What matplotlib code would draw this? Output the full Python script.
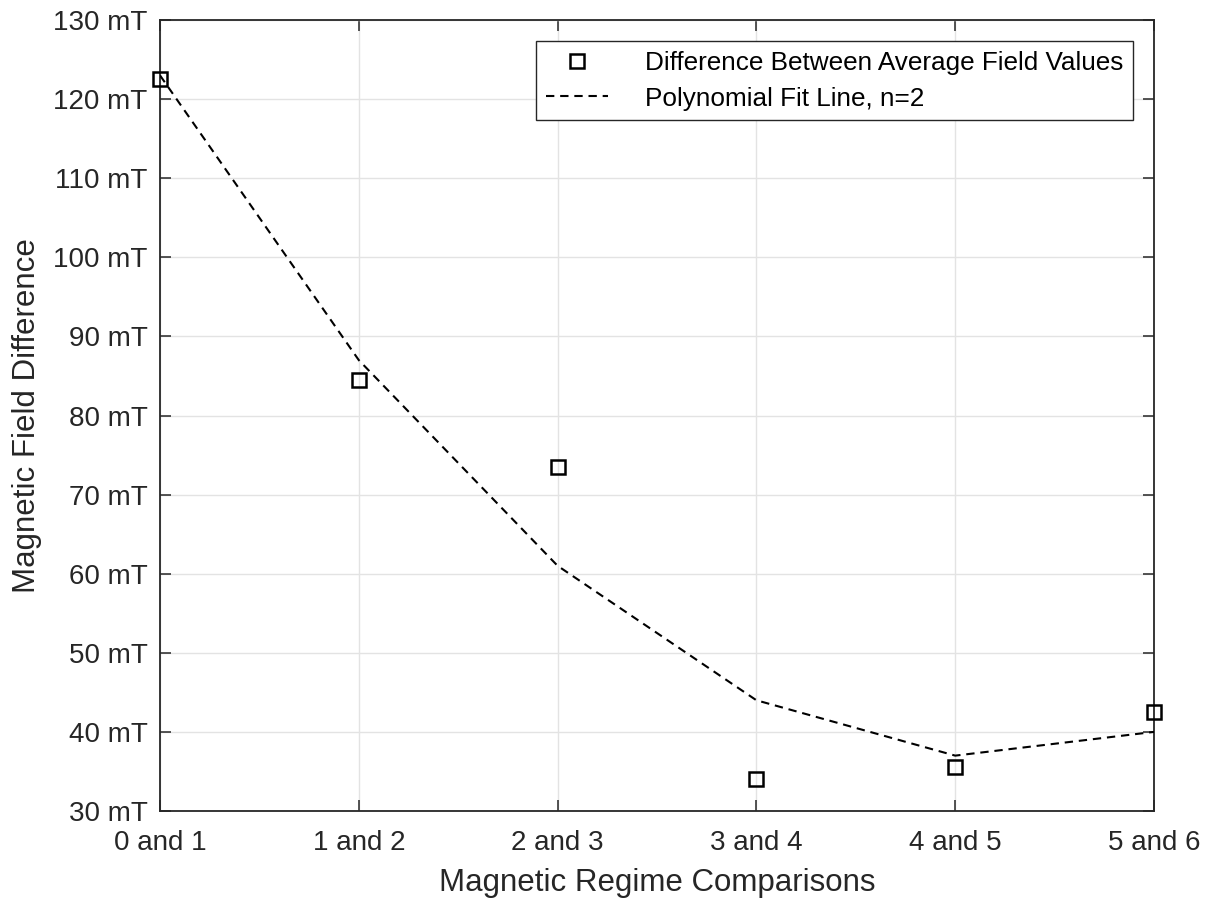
import matplotlib
matplotlib.use("Agg")
import matplotlib.pyplot as plt
from matplotlib.ticker import FuncFormatter

plt.rcParams['font.family'] = ['Liberation Sans', 'DejaVu Sans']

categories = ["0 and 1", "1 and 2", "2 and 3", "3 and 4", "4 and 5", "5 and 6"]
diff_values = [122.5, 84.5, 73.5, 34.0, 35.5, 42.5]
fit_values = [123.0, 87.0, 61.0, 44.0, 37.0, 40.0]
y_ticks = [30, 40, 50, 60, 70, 80, 90, 100, 110, 120, 130]

dark = '#262626'
fig = plt.figure(figsize=(12.1, 8.99), dpi=100)
ax = fig.add_axes([160/1210, 1-811/899, (1154-160)/1210, (811-20)/899])

x = list(range(len(categories)))
ax.plot(x, diff_values, linestyle='none', marker='s', markersize=10,
        markerfacecolor='none', markeredgecolor='black', markeredgewidth=1.8,
        label='Difference Between Average Field Values', zorder=4, clip_on=False)
ax.plot(x, fit_values, linestyle=(0, (4, 2.8)), color='black', linewidth=1.5,
        label='Polynomial Fit Line, n=2', zorder=3)

ax.set_xlim(0, 5)
ax.set_ylim(30, 130)
ax.set_xticks(x)
ax.set_xticklabels(categories)
ax.set_yticks(y_ticks)
ax.yaxis.set_major_formatter(FuncFormatter(lambda v, p: f"{int(v)} mT"))

ax.grid(True, color='#e3e3e3', linewidth=1.0)
ax.set_axisbelow(True)
for s in ax.spines.values():
    s.set_color(dark)
    s.set_linewidth(1.3)
ax.tick_params(axis='both', direction='in', length=8, width=1.1, color=dark,
               labelcolor=dark, labelsize=20, top=True, right=True)
ax.tick_params(axis='x', pad=14)
ax.tick_params(axis='y', pad=9)

ax.set_xlabel('Magnetic Regime Comparisons', fontsize=22.5, color=dark, labelpad=8)
ax.set_ylabel('Magnetic Field Difference', fontsize=22.5, color=dark, labelpad=8)

leg = ax.legend(loc='upper right', fontsize=18.8, frameon=True, fancybox=False,
                edgecolor=dark, framealpha=1, borderaxespad=0.8,
                handlelength=2.4, handletextpad=1.4, borderpad=0.38, labelspacing=0.45)
leg.get_frame().set_linewidth(1.0)

fig.savefig('out.png', dpi=100)
